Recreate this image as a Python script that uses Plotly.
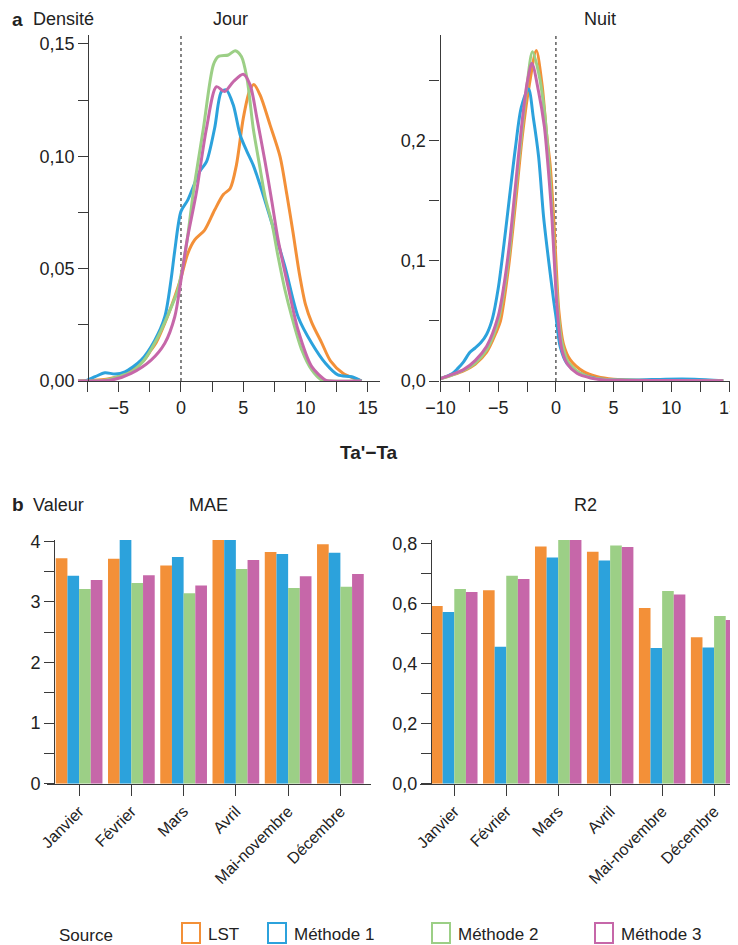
import plotly.graph_objects as go

# ---------------- data ----------------
sources = ["LST", "Méthode 1", "Méthode 2", "Méthode 3"]
categories = ["Janvier", "Février", "Mars", "Avril", "Mai-novembre", "Décembre"]

# Density, day (Jour)
jour_lst_x = [-8.3, -7, -6, -5, -4, -3, -2.4, -2, -1.3, -0.5, 0, 0.55, 1.1, 1.9, 2.7, 3.4, 3.95, 4.45, 5.0, 5.5, 5.85, 6.35, 7.15, 7.95, 8.5, 9.0, 9.5, 10.0, 10.5, 11.3, 12.0, 13.0, 14.0, 14.5]
jour_lst_y = [0, 0.0003, 0.0008, 0.002, 0.0049, 0.009, 0.0138, 0.017, 0.0257, 0.0375, 0.046, 0.0568, 0.0628, 0.0672, 0.0761, 0.083, 0.0857, 0.0961, 0.1169, 0.129, 0.132, 0.1273, 0.114, 0.1, 0.083, 0.066, 0.048, 0.034, 0.026, 0.017, 0.009, 0.0035, 0.001, 0]
jour_m1_x = [-8.3, -7.7, -6.9, -6.1, -5.3, -4.5, -3.2, -2.1, -1.3, -0.8, -0.5, 0, 0.55, 1.5, 2.05, 2.7, 3.25, 3.65, 4.2, 4.75, 5.3, 5.8, 6.35, 7.3, 8.35, 9.4, 10.5, 11.6, 12.6, 13.7, 14.5]
jour_m1_y = [0, 0.0, 0.0019, 0.0037, 0.0031, 0.0041, 0.0093, 0.0182, 0.0286, 0.045, 0.058, 0.0755, 0.0806, 0.0932, 0.0976, 0.1125, 0.1288, 0.1295, 0.1228, 0.1095, 0.1021, 0.0961, 0.0872, 0.0702, 0.0509, 0.0286, 0.0168, 0.0079, 0.0027, 0.0019, 0]
jour_m2_x = [-8.3, -6, -5, -4, -3, -2, -1, -0.25, 0, 0.5, 1.0, 1.8, 2.6, 3.0, 3.8, 4.35, 4.85, 5.3, 5.8, 6.35, 6.75, 7.3, 7.8, 8.35, 8.9, 9.7, 10.5, 11.3, 12, 14.5]
jour_m2_y = [0, 0.0005, 0.002, 0.004, 0.009, 0.018, 0.03, 0.0405, 0.047, 0.063, 0.0843, 0.1125, 0.1407, 0.1444, 0.1451, 0.147, 0.1444, 0.1347, 0.1125, 0.0947, 0.082, 0.0702, 0.0553, 0.0405, 0.0286, 0.0138, 0.0049, 0.0004, 0, 0]
jour_m3_x = [-8.3, -5.6, -4.0, -2.4, -1.3, -0.5, 0, 0.5, 1.0, 1.25, 2.05, 2.85, 3.5, 4.2, 5.0, 5.55, 6.1, 6.75, 7.3, 7.8, 8.6, 9.4, 10.5, 11.6, 12, 14.5]
jour_m3_y = [0, 0.0004, 0.0034, 0.0093, 0.0168, 0.0286, 0.045, 0.063, 0.077, 0.0843, 0.1125, 0.131, 0.1288, 0.1332, 0.1365, 0.1318, 0.1169, 0.0976, 0.0798, 0.0628, 0.042, 0.0227, 0.0064, 0.0004, 0, 0]

# Density, night (Nuit)
nuit_lst_x = [-10, -9, -8, -7, -6, -5.2, -4.8, -4.1, -3.5, -2.9, -2.3, -1.7, -1.2, -0.8, -0.5, -0.2, 0.03, 0.25, 0.65, 1.25, 2.4, 3.6, 5, 7, 10, 12, 14.5]
nuit_lst_y = [0.002, 0.005, 0.0085, 0.014, 0.024, 0.04, 0.05, 0.095, 0.148, 0.205, 0.247, 0.2753, 0.247, 0.205, 0.18, 0.137, 0.095, 0.059, 0.031, 0.0175, 0.0078, 0.0036, 0.0015, 0.0006, 0.0006, 0.0006, 0.0003]
nuit_m1_x = [-10, -9, -8.5, -8, -7.45, -7, -6.5, -6, -5.5, -5, -4.5, -4, -3.5, -3, -2.37, -1.95, -1.5, -1.07, -0.64, -0.2, 0, 0.37, 0.95, 2.1, 3.56, 5, 7, 9.5, 12, 14.5]
nuit_m1_y = [0.002, 0.006, 0.0105, 0.016, 0.024, 0.0275, 0.032, 0.039, 0.052, 0.077, 0.114, 0.155, 0.195, 0.228, 0.2433, 0.219, 0.187, 0.137, 0.101, 0.0675, 0.054, 0.0286, 0.0147, 0.0064, 0.002, 0.001, 0.0008, 0.0015, 0.0015, 0.0003]
nuit_m2_x = [-10, -9, -8, -7, -6, -5, -4.5, -4, -3.5, -3, -2.5, -2.03, -1.5, -1, -0.5, 0, 0.25, 0.5, 1, 1.5, 2, 3, 4, 6, 10, 14.5]
nuit_m2_y = [0.002, 0.005, 0.009, 0.015, 0.026, 0.05, 0.075, 0.11, 0.157, 0.203, 0.247, 0.2744, 0.257, 0.225, 0.168, 0.085, 0.052, 0.033, 0.017, 0.011, 0.007, 0.003, 0.0015, 0.0006, 0.0005, 0.0003]
nuit_m3_x = [-10, -9, -8, -7, -6, -5, -4.5, -4, -3.5, -3, -2.5, -2.08, -1.5, -1, -0.78, -0.35, 0, 0.25, 0.52, 1, 1.82, 3, 4, 6, 10, 14.5]
nuit_m3_y = [0.002, 0.0055, 0.0095, 0.017, 0.029, 0.054, 0.08, 0.116, 0.163, 0.21, 0.248, 0.2647, 0.241, 0.212, 0.19, 0.137, 0.075, 0.045, 0.026, 0.014, 0.0064, 0.0025, 0.001, 0.0005, 0.0005, 0.0003]

# Bars
mae_lst = [3.72, 3.71, 3.60, 4.09, 3.82, 3.95]
mae_m1 = [3.43, 4.03, 3.74, 4.02, 3.79, 3.81]
mae_m2 = [3.21, 3.31, 3.14, 3.54, 3.23, 3.25]
mae_m3 = [3.36, 3.44, 3.27, 3.69, 3.42, 3.46]
r2_lst = [0.591, 0.644, 0.789, 0.772, 0.585, 0.487]
r2_m1 = [0.571, 0.456, 0.753, 0.743, 0.452, 0.453]
r2_m2 = [0.648, 0.692, 0.824, 0.793, 0.641, 0.558]
r2_m3 = [0.638, 0.681, 0.819, 0.788, 0.630, 0.545]

# ---------------- style ----------------
colors = ["#F39038", "#2CA2DC", "#9CCF86", "#C667A9"]
FONT = "Liberation Sans, Arial, Helvetica, sans-serif"
TXT = "#222222"
AX = "#3a3a3a"
OFF = 8                      # default page margin of the html body
W, H = 738 - OFF, 945 - OFF  # figure size so the page fits the window


def px(x):
    return (x - OFF) / W


def py(y):
    return 1 - (y - OFF) / H


fig = go.Figure()

jour = [(jour_lst_x, jour_lst_y), (jour_m1_x, jour_m1_y), (jour_m2_x, jour_m2_y), (jour_m3_x, jour_m3_y)]
nuit = [(nuit_lst_x, nuit_lst_y), (nuit_m1_x, nuit_m1_y), (nuit_m2_x, nuit_m2_y), (nuit_m3_x, nuit_m3_y)]
mae = [mae_lst, mae_m1, mae_m2, mae_m3]
r2 = [r2_lst, r2_m1, r2_m2, r2_m3]

for (xs, ys), name, c in zip(jour, sources, colors):
    fig.add_trace(go.Scatter(x=xs, y=ys, name=name, mode="lines", xaxis="x", yaxis="y",
                             line=dict(color=c, width=3, shape="spline", smoothing=0.8),
                             showlegend=False, cliponaxis=False))
for (xs, ys), name, c in zip(nuit, sources, colors):
    fig.add_trace(go.Scatter(x=xs, y=ys, name=name, mode="lines", xaxis="x2", yaxis="y2",
                             line=dict(color=c, width=3, shape="spline", smoothing=0.8),
                             showlegend=False, cliponaxis=False))
for vals, name, c in zip(mae, sources, colors):
    fig.add_trace(go.Bar(x=categories, y=vals, name=name, xaxis="x3", yaxis="y3",
                         marker=dict(color=c, line=dict(width=0)), showlegend=False))
for vals, name, c in zip(r2, sources, colors):
    fig.add_trace(go.Bar(x=categories, y=vals, name=name, xaxis="x4", yaxis="y4",
                         marker=dict(color=c, line=dict(width=0)), showlegend=False))

common = dict(showline=True, linecolor=AX, linewidth=1.3, ticks="outside", ticklen=10,
              tickwidth=1.3, tickcolor=AX, showgrid=False, zeroline=False,
              tickfont=dict(size=18, color=TXT, family=FONT), fixedrange=True,
              ticklabeloverflow="allow")


def minor(d):
    return dict(dtick=d, ticks="outside", ticklen=10, tickwidth=1.3, tickcolor=AX, showgrid=False)


top_dom = [py(381), py(35)]
bot_dom = [py(783.7), py(540)]

fig.update_layout(
    width=W, height=H, template="none",
    paper_bgcolor="white", plot_bgcolor="rgba(0,0,0,0)",
    margin=dict(l=0, r=0, t=0, b=0),
    separators=", ",
    font=dict(family=FONT, color=TXT),
    barmode="group", bargap=0.106, bargroupgap=0,
    xaxis=dict(common, domain=[px(78), px(380)], range=[-8.27, 15.98], anchor="y",
               tick0=0, dtick=5, minor=minor(2.5)),
    yaxis=dict(common, domain=top_dom, range=[0, 0.154], anchor="free", position=px(88.3),
               tick0=0, dtick=0.05, tickformat=".2f", minor=minor(0.025)),
    xaxis2=dict(common, domain=[px(440.5), px(729.6)], range=[-10, 15.05], anchor="y2",
                tick0=0, dtick=5, minor=minor(2.5)),
    yaxis2=dict(common, domain=top_dom, range=[0, 0.2883], anchor="x2",
                tick0=0, dtick=0.1, tickformat=".1f", minor=minor(0.05)),
    xaxis3=dict(common, domain=[px(46.7), px(370.7)], range=[-0.62, 5.58], anchor="y3",
                type="category", tickangle=-45, ticklen=11,
                tickfont=dict(size=16, color=TXT, family=FONT)),
    yaxis3=dict(common, domain=bot_dom, range=[0, 4.02], anchor="free", position=px(54.3),
                tick0=0, dtick=1, minor=minor(0.5)),
    xaxis4=dict(common, domain=[px(420), 1.0], range=[-0.66, 5.46], anchor="y4",
                type="category", tickangle=-45, ticklen=11,
                tickfont=dict(size=16, color=TXT, family=FONT)),
    yaxis4=dict(common, domain=bot_dom, range=[0, 0.811], anchor="free", position=px(431),
                tick0=0, dtick=0.2, tickformat=".1f", minor=minor(0.1)),
)

shapes = []
for xr, yr in [("x", "y"), ("x2", "y2")]:
    shapes.append(dict(type="line", xref=xr, yref=yr + " domain", x0=0, x1=0, y0=0, y1=1,
                       line=dict(color="#444444", width=1.3, dash="dot"), layer="below"))

annotations = []


def txt(text, x, y, size=17, bold=False, xanchor="left", yanchor="middle"):
    annotations.append(dict(text=("<b>%s</b>" % text) if bold else text, x=px(x), y=py(y),
                            xref="paper", yref="paper", xanchor=xanchor, yanchor=yanchor,
                            showarrow=False, borderpad=0,
                            font=dict(size=size, color=TXT, family=FONT)))


txt("a", 11, 8, size=19, bold=True, yanchor="top")
txt("Densité", 32, 8, size=18, yanchor="top")
txt("Jour", 230, 8, size=18, xanchor="center", yanchor="top")
txt("Nuit", 600, 8, size=18, xanchor="center", yanchor="top")
txt("Ta'−Ta", 369, 453, size=19, bold=True, xanchor="center")
txt("b", 11, 505, size=19, bold=True)
txt("Valeur", 32, 505, size=18)
txt("MAE", 208, 505, size=18, xanchor="center")
txt("R2", 585, 505, size=18, xanchor="center")

# legend
txt("Source", 58, 935, size=17)
box_x = [182, 268, 432, 595]
for bx, name, c in zip(box_x, sources, colors):
    shapes.append(dict(type="rect", xref="paper", yref="paper", x0=px(bx), x1=px(bx + 18),
                       y0=py(943), y1=py(923), line=dict(color=c, width=2), fillcolor="white"))
    txt(name, bx + 25, 934, size=17)

fig.update_layout(shapes=shapes, annotations=annotations)

fig.write_html("out.html")
